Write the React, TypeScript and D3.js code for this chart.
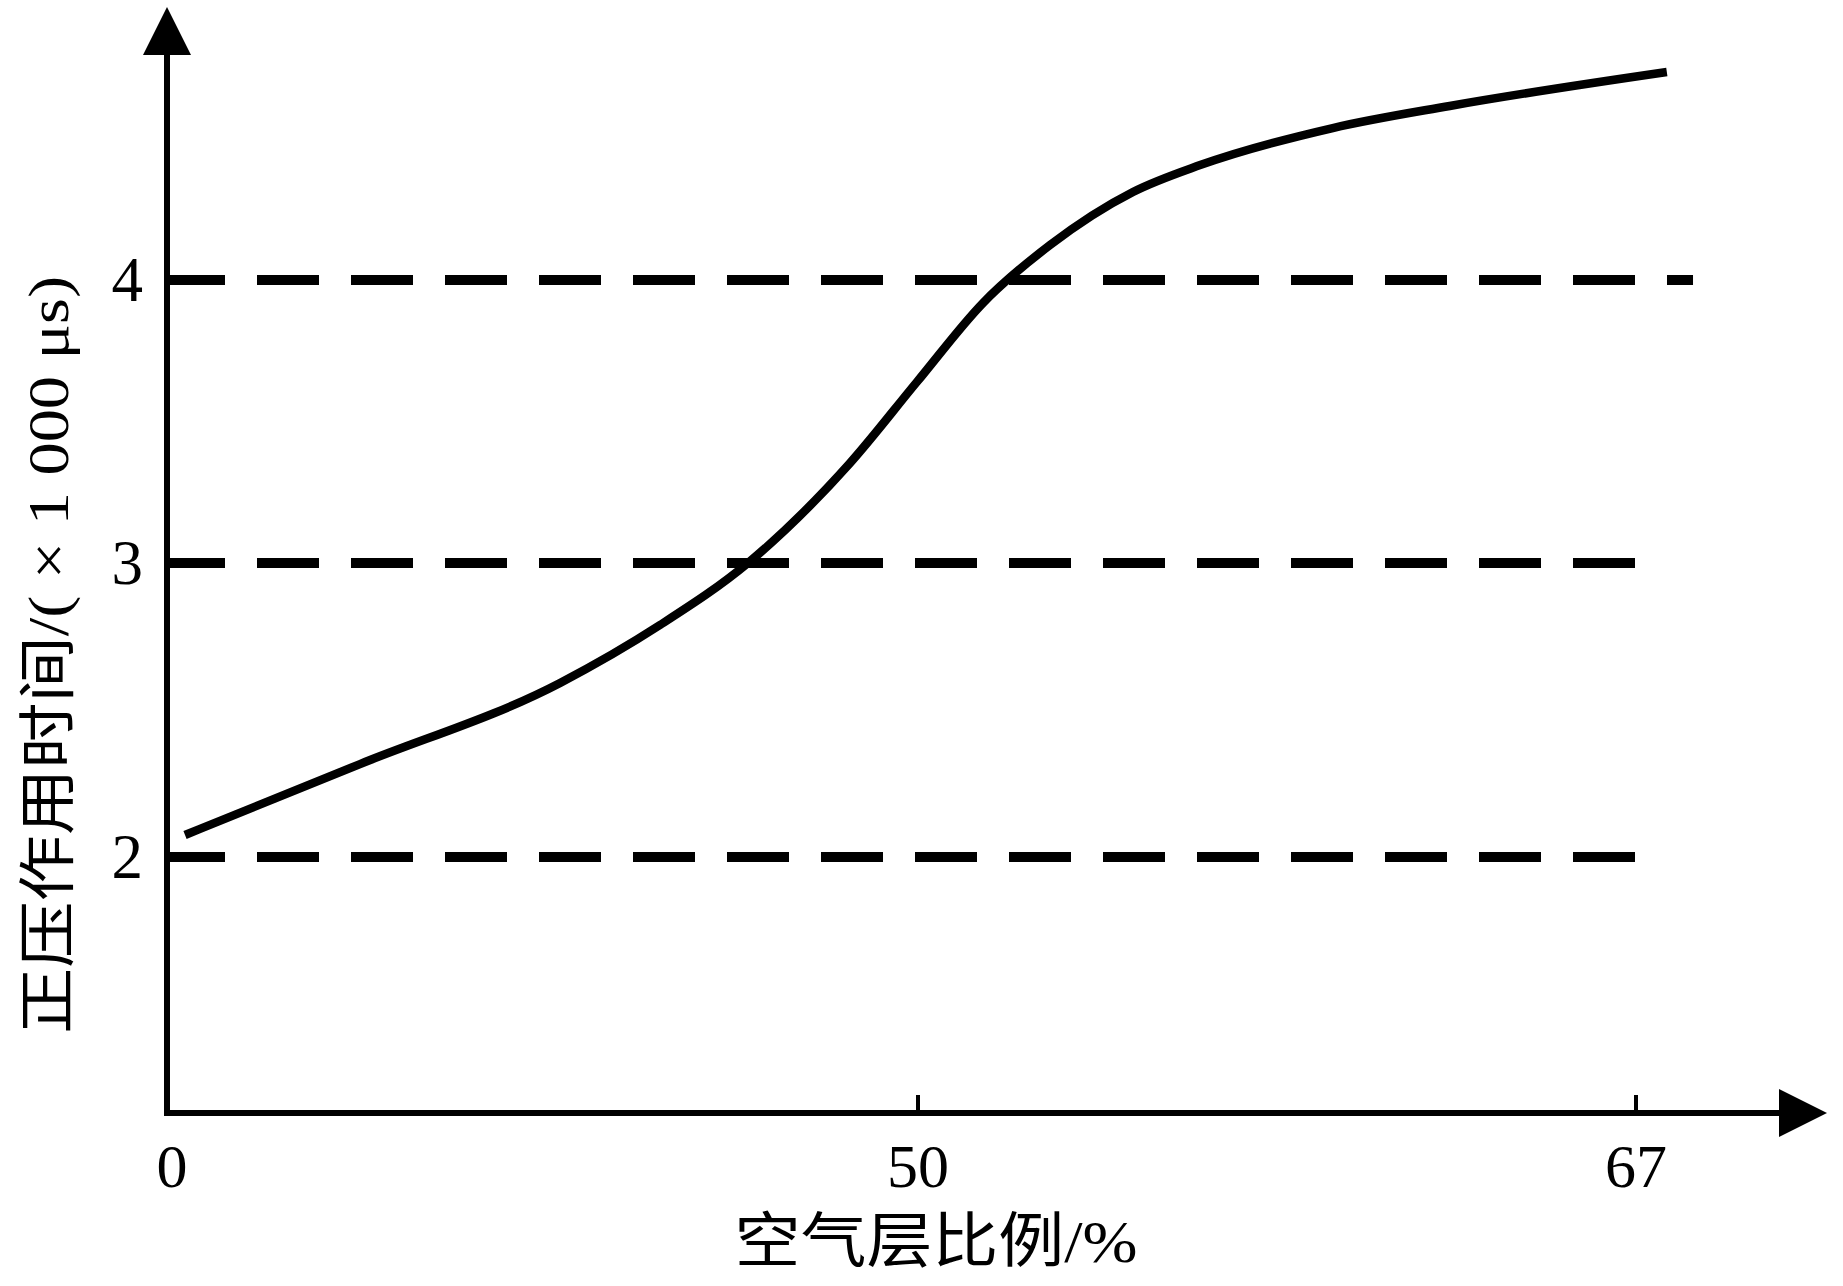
import React from "react";
import * as d3 from "d3";

// ---- data ----
const xTickValues = [0, 50, 67];
const yTickValues = [2, 3, 4];
const xTitle = "空气层比例/%";
const yTitle = "正压作用时间/( × 1 000 μs)";

// curve: air layer ratio (%) vs positive-pressure duration (×1000 μs)
const airRatio = [1.2, 12.85, 26.17, 32.82, 38.68, 45.47, 49.93, 51.54, 53.13, 55.09, 56.68, 59.82, 62.59, 67.73];
const duration = [2.075, 2.316, 2.592, 2.789, 3.0, 3.353, 3.64, 3.919, 4.124, 4.311, 4.406, 4.537, 4.615, 4.735];

// dashed reference levels and where each ends on the x axis
const refLevels = [2, 3, 4];
const refEnds = [67, 67, 68.35];

const W = 1843;
const H = 1286;

export default function App() {
  // the original axis is not to scale, so the scales are piecewise linear
  const x = d3.scaleLinear().domain([0, 50, 67]).range([167, 918, 1636]);
  const y = d3.scaleLinear().domain([2, 3, 4]).range([857, 563, 280]);

  const originX = x(0);
  const originY = 1113;
  const axisTopTip = 7;
  const axisRightTip = 1827;
  const arrowLen = 48;
  const arrowHalf = 24;

  const pts = airRatio.map((v, i) => [v, duration[i]] as [number, number]);
  const line = d3
    .line<[number, number]>()
    .x((d) => x(d[0]))
    .y((d) => y(d[1]))
    .curve(d3.curveMonotoneX);

  const font = "'Liberation Serif', 'Noto Sans CJK SC', serif";

  return (
    <svg
      width={W}
      height={H}
      viewBox={`0 0 ${W} ${H}`}
      style={{ position: "absolute", left: 0, top: 0, background: "#fff" }}
    >
      <rect x={0} y={0} width={W} height={H} fill="#fff" />

      {/* dashed reference lines */}
      {refLevels.map((lv, i) => (
        <line
          key={"ref" + lv}
          x1={originX}
          x2={x(refEnds[i])}
          y1={y(lv)}
          y2={y(lv)}
          stroke="#000"
          strokeWidth={10}
          strokeDasharray="62 32"
          strokeDashoffset={4}
        />
      ))}

      {/* curve */}
      <path d={line(pts) || ""} fill="none" stroke="#000" strokeWidth={8.5} strokeLinejoin="round" />

      {/* y axis */}
      <line x1={originX} x2={originX} y1={originY} y2={axisTopTip + arrowLen - 2} stroke="#000" strokeWidth={6} />
      <path
        d={`M${originX},${axisTopTip} L${originX - arrowHalf},${axisTopTip + arrowLen} L${originX + arrowHalf},${axisTopTip + arrowLen} Z`}
        fill="#000"
      />
      {/* x axis */}
      <line x1={originX - 3} x2={axisRightTip - arrowLen + 2} y1={originY} y2={originY} stroke="#000" strokeWidth={6} />
      <path
        d={`M${axisRightTip},${originY} L${axisRightTip - arrowLen},${originY - arrowHalf} L${axisRightTip - arrowLen},${originY + arrowHalf} Z`}
        fill="#000"
      />

      {/* x ticks */}
      {xTickValues
        .filter((v) => v !== 0)
        .map((v) => (
          <line key={"xt" + v} x1={x(v)} x2={x(v)} y1={originY} y2={originY - 18} stroke="#000" strokeWidth={4} />
        ))}
      {xTickValues.map((v) => (
        <text
          key={"xl" + v}
          x={x(v) + (v === 0 ? 5 : 0)}
          y={1187}
          textAnchor="middle"
          fontFamily={font}
          fontSize={62}
          fill="#000"
        >
          {v}
        </text>
      ))}

      {/* y tick labels */}
      {yTickValues.map((v) => (
        <text
          key={"yl" + v}
          x={143}
          y={y(v) + 21}
          textAnchor="end"
          fontFamily={font}
          fontSize={63}
          fill="#000"
        >
          {v}
        </text>
      ))}

      {/* axis titles */}
      <text
        x={936}
        y={1262}
        textAnchor="middle"
        fontFamily={font}
        fontSize={60}
        textLength={403}
        lengthAdjust="spacingAndGlyphs"
        fill="#000"
      >
        {xTitle}
      </text>
      <text
        transform={`translate(68,655) rotate(-90)`}
        x={0}
        y={0}
        textAnchor="middle"
        fontFamily={font}
        fontSize={58}
        textLength={758}
        lengthAdjust="spacingAndGlyphs"
        fill="#000"
      >
        {yTitle}
      </text>
    </svg>
  );
}
